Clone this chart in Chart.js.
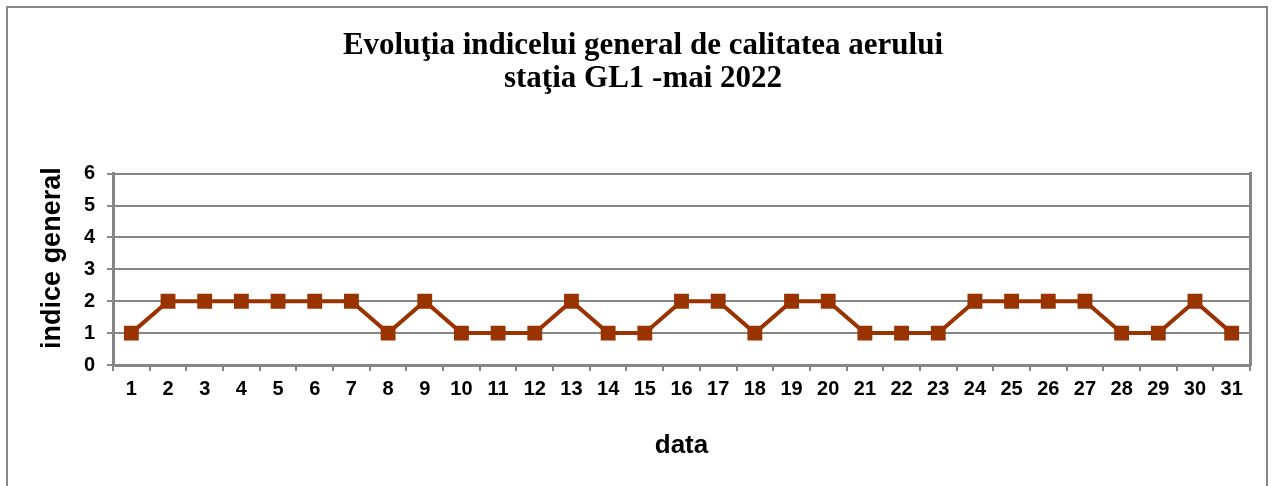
<!DOCTYPE html>
<html lang="ro">

<head>
    <meta charset="UTF-8">
    <title>Evoluţia indicelui general de calitatea aerului</title>
    <script src="https://cdn.jsdelivr.net/npm/chart.js"></script>
    <style>
        html, body { margin: 0; padding: 0; background: #fff; }
        #wrap { width: 1275px; height: 486px; }
    </style>
</head>

<body>
    <div id="wrap"><canvas id="myChart" width="1275" height="486"></canvas></div>

    <script>
        const titleLines = ['Evoluţia indicelui general de calitatea aerului', 'staţia GL1 -mai 2022'];
        const days = ['1', '2', '3', '4', '5', '6', '7', '8', '9', '10', '11', '12', '13', '14', '15', '16',
            '17', '18', '19', '20', '21', '22', '23', '24', '25', '26', '27', '28', '29', '30', '31'];
        const indice = [1, 2, 2, 2, 2, 2, 2, 1, 2, 1, 1, 1, 2, 1, 1, 2, 2, 1, 2, 2, 1, 1, 1, 2, 2, 2, 2, 1, 1, 2, 1];
        const yTicks = [0, 1, 2, 3, 4, 5, 6];

        const gray = '#868686';
        const brown = '#993300';
        const sans = '"Liberation Sans", Arial, sans-serif';

        // outer frame of the chart object
        const frame = {
            id: 'frame',
            beforeDraw(chart) {
                const c = chart.ctx;
                c.save();
                c.fillStyle = '#fff';
                c.fillRect(0, 0, chart.width, chart.height);
                c.strokeStyle = gray;
                c.lineWidth = 2;
                c.strokeRect(7, 7, 1260, 520);
                c.restore();
            }
        };

        const ctx = document.getElementById('myChart').getContext('2d');
        const chart = new Chart(ctx, {
            type: 'line',
            data: {
                labels: days,
                datasets: [{
                    label: 'indice general',
                    data: indice,
                    borderColor: brown,
                    backgroundColor: brown,
                    borderWidth: 4,
                    pointStyle: 'rect',
                    pointRadius: 10.5,
                    pointBorderWidth: 0,
                    pointBackgroundColor: brown,
                    tension: 0,
                    fill: false
                }]
            },
            options: {
                responsive: false,
                animation: false,
                layout: { padding: { left: 36, right: 25, top: 0, bottom: 20 } },
                plugins: {
                    legend: { display: false },
                    tooltip: { enabled: false },
                    title: {
                        display: true,
                        text: titleLines,
                        color: '#000',
                        font: { family: '"Liberation Serif", "Times New Roman", serif', size: 31, weight: 'bold', lineHeight: 1.06 },
                        padding: { top: 30, bottom: 78 }
                    }
                },
                scales: {
                    x: {
                        offset: true,
                        grid: { offset: true, drawOnChartArea: false, drawTicks: true, tickLength: 6, color: gray, lineWidth: 2 },
                        border: { color: gray, width: 3 },
                        ticks: {
                            color: '#000', padding: 6, maxRotation: 0, autoSkip: false,
                            font: { family: sans, size: 20, weight: 'bold' }
                        },
                        title: {
                            display: true, text: 'data', color: '#000', padding: { top: 20, bottom: 5 },
                            font: { family: sans, size: 26, weight: 'bold' }
                        },
                        afterFit(scale) { scale.height = 101; }
                    },
                    y: {
                        min: 0,
                        max: 6,
                        afterBuildTicks(scale) { scale.ticks = yTicks.map(v => ({ value: v })); },
                        grid: { color: gray, lineWidth: 2, tickLength: 6 },
                        border: { color: gray, width: 3 },
                        ticks: {
                            color: '#000', padding: 12,
                            font: { family: sans, size: 20, weight: 'bold' }
                        },
                        title: {
                            display: true, text: '   indice general', color: '#000', padding: 0,
                            font: { family: sans, size: 27, weight: 'bold' }
                        },
                        afterFit(scale) { scale.width = 77; }
                    },
                    y2: {
                        position: 'right',
                        min: 0,
                        max: 6,
                        grid: { drawOnChartArea: false, drawTicks: false },
                        border: { color: gray, width: 3 },
                        ticks: { display: false },
                        afterFit(scale) { scale.width = 0; }
                    }
                }
            },
            plugins: [frame]
        });
    </script>
</body>

</html>
